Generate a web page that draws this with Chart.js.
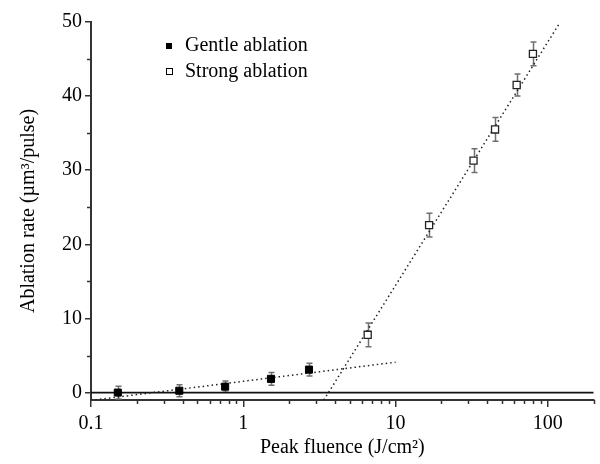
<!DOCTYPE html>
<html>
<head>
<meta charset="utf-8">
<script src="https://cdn.jsdelivr.net/npm/chart.js@4.4.0/dist/chart.umd.min.js"></script>
<style>
    html, body { margin: 0; padding: 0; background: #fff; }
    #wrap { width: 600px; height: 464px; }
</style>
</head>
<body>
<div id="wrap"><canvas id="ablationChart"></canvas></div>
<script>
// -- Data ---------------------------------------------------------------
const gentleX = [0.15, 0.38, 0.76, 1.52, 2.7];
const gentleY = [0.0, 0.25, 0.8, 1.85, 3.1];
const gentleErr = [0.85, 0.8, 0.75, 0.85, 0.85];

const strongX = [6.56, 16.6, 32.5, 45, 62.4, 79.8];
const strongY = [7.8, 22.6, 31.3, 35.5, 41.5, 45.7];
const strongErr = [1.6, 1.6, 1.6, 1.6, 1.5, 1.6];

// dotted fit lines (end points)
const gentleFitX = [0.1, 10];
const gentleFitY = [-1.05, 4.1];
const strongFitX = [3.38, 119];
const strongFitY = [-1, 49.8];

// solid reference line at zero
const zeroX = [0.1, 200];
const zeroY = [0, 0];

const xTicks = [0.1, 1, 10, 100];
const xMinorTicks = [0.2, 0.3, 0.4, 0.5, 0.6, 0.7, 0.8, 0.9,
    2, 3, 4, 5, 6, 7, 8, 9, 20, 30, 40, 50, 60, 70, 80, 90, 200];
const yTicks = [0, 10, 20, 30, 40, 50];
const yMinorTicks = [5, 15, 25, 35, 45];

const legendLabels = ['Gentle ablation', 'Strong ablation'];

const FONT = '"Liberation Serif", "Times New Roman", serif';
const AXIS = '#333';

function pts(xs, ys) {
    return xs.map((x, i) => ({ x, y: ys[i] }));
}

// -- Plugins ------------------------------------------------------------
const errorBars = {
    id: 'errorBars',
    beforeDatasetsDraw(chart) {
        const { ctx, scales: { x, y } } = chart;
        ctx.save();
        ctx.strokeStyle = '#707070';
        ctx.lineWidth = 1.5;
        chart.data.datasets.forEach((ds) => {
            if (!ds.errors) return;
            ds.data.forEach((p, i) => {
                const px = Math.round(x.getPixelForValue(p.x)) + 0.5;
                const top = y.getPixelForValue(p.y + ds.errors[i]);
                const bot = y.getPixelForValue(p.y - ds.errors[i]);
                ctx.beginPath();
                ctx.moveTo(px, top); ctx.lineTo(px, bot);
                ctx.moveTo(px - 3, top); ctx.lineTo(px + 3, top);
                ctx.moveTo(px - 3, bot); ctx.lineTo(px + 3, bot);
                ctx.stroke();
            });
        });
        ctx.restore();
    },
};

const minorTicks = {
    id: 'minorTicks',
    afterDraw(chart) {
        const { ctx, chartArea: a, scales: { x, y } } = chart;
        ctx.save();
        ctx.strokeStyle = AXIS;
        ctx.lineWidth = 1.5;
        ctx.beginPath();
        xMinorTicks.forEach((v) => {
            const px = Math.round(x.getPixelForValue(v)) + 0.5;
            ctx.moveTo(px, a.bottom);
            ctx.lineTo(px, a.bottom + 4);
        });
        yMinorTicks.forEach((v) => {
            const py = Math.round(y.getPixelForValue(v)) + 0.5;
            ctx.moveTo(a.left, py);
            ctx.lineTo(a.left - 4, py);
        });
        ctx.stroke();
        ctx.restore();
    },
};

const legendBox = {
    id: 'legendBox',
    afterDraw(chart) {
        const { ctx } = chart;
        ctx.save();
        ctx.font = '20px ' + FONT;
        ctx.fillStyle = '#000';
        ctx.textBaseline = 'alphabetic';
        ctx.fillRect(166, 43, 6, 6);
        ctx.fillText(legendLabels[0], 185, 51);
        ctx.strokeStyle = '#000';
        ctx.lineWidth = 1;
        ctx.strokeRect(166.5, 68.5, 6, 6);
        ctx.fillText(legendLabels[1], 185, 77);
        ctx.restore();
    },
};

// -- Chart --------------------------------------------------------------
new Chart(document.getElementById('ablationChart'), {
    type: 'scatter',
    data: {
        datasets: [
            {
                label: legendLabels[0], data: pts(gentleX, gentleY), errors: gentleErr,
                pointStyle: 'rect', pointRadius: 5, backgroundColor: '#000', borderColor: '#000', borderWidth: 1,
            },
            {
                label: legendLabels[1], data: pts(strongX, strongY), errors: strongErr,
                pointStyle: 'rect', pointRadius: 5, backgroundColor: '#fff', borderColor: '#222', borderWidth: 1.3,
            },
            {
                type: 'line', data: pts(gentleFitX, gentleFitY), showLine: true, pointRadius: 0,
                borderColor: '#222', borderWidth: 1.5, borderDash: [1.5, 3],
            },
            {
                type: 'line', data: pts(strongFitX, strongFitY), showLine: true, pointRadius: 0,
                borderColor: '#222', borderWidth: 1.5, borderDash: [1.5, 3],
            },
            {
                type: 'line', data: pts(zeroX, zeroY), showLine: true, pointRadius: 0,
                borderColor: '#111', borderWidth: 1.8,
            },
        ],
    },
    options: {
        responsive: true, maintainAspectRatio: false, animation: false,
        layout: { padding: { top: 22, right: 2, left: 0, bottom: 0 } },
        plugins: { legend: { display: false }, tooltip: { enabled: false } },
        scales: {
            x: {
                type: 'logarithmic', min: 0.1, max: 200,
                afterBuildTicks: (s) => { s.ticks = xTicks.map((v) => ({ value: v })); },
                afterFit: (s) => { s.height = 64; },
                grid: { drawOnChartArea: false, drawTicks: true, tickLength: 7, color: AXIS, lineWidth: 1.5 },
                border: { display: true, color: AXIS, width: 2 },
                ticks: { color: '#000', padding: 5, maxRotation: 0, font: { family: FONT, size: 20 }, callback: (v) => String(v) },
                title: { display: true, text: 'Peak fluence (J/cm²)', color: '#000', padding: { top: 4 }, font: { family: FONT, size: 20 } },
            },
            y: {
                min: -1, max: 50,
                afterBuildTicks: (s) => { s.ticks = yTicks.map((v) => ({ value: v })); },
                afterFit: (s) => { s.width = 91; },
                grid: { drawOnChartArea: false, drawTicks: true, tickLength: 6, color: AXIS, lineWidth: 1.5 },
                border: { display: true, color: AXIS, width: 2 },
                ticks: { color: '#000', padding: 3, font: { family: FONT, size: 20 } },
                title: { display: true, text: 'Ablation rate (µm³/pulse)', color: '#000', padding: { top: 17, bottom: 0 }, font: { family: FONT, size: 20 } },
            },
        },
    },
    plugins: [errorBars, minorTicks, legendBox],
});
</script>
</body>
</html>
